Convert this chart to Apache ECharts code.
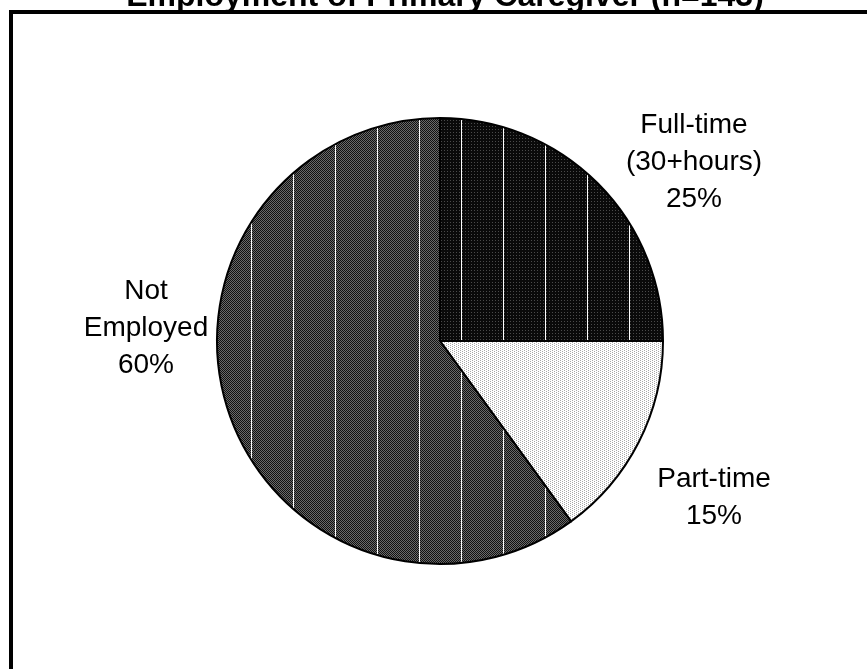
<!DOCTYPE html>
<html>
<head>
    <meta charset="utf-8" />
    <title>Employment of Primary Caregiver</title>
    <script src="https://cdn.jsdelivr.net/npm/echarts@6/dist/echarts.min.js"></script>
    <style>
        body { margin: 0; background: #fff; }
    </style>
</head>
<body>
<div id="main" style="width: 867px;height:669px;"></div>

<script type="text/javascript">
    // data
    var categories = ['Full-time (30+hours)', 'Part-time', 'Not Employed'];
    var shares = [25, 15, 60];

    // where each label sits, relative to the pie centre
    var labelOffsets = [[254, -179], [274, 157], [-294, -13]];

    var cx = 440, cy = 341, R = 223;

    // build a small tiled texture: base pixels + optional white vertical stripe
    function makeTile(w, h, paint) {
        var c = document.createElement('canvas');
        c.width = w;
        c.height = h;
        var ctx = c.getContext('2d');
        for (var y = 0; y < h; y++) {
            for (var x = 0; x < w; x++) {
                ctx.fillStyle = paint(x, y);
                ctx.fillRect(x, y, 1, 1);
            }
        }
        return { image: c, repeat: 'repeat' };
    }

    var fullTimeFill = makeTile(42, 3, function (x, y) {
        if (x === 41) return '#ffffff';
        return (x % 3 === 0 && y === 0) ? '#4a4a4a' : '#0a0a0a';
    });
    var notEmployedFill = makeTile(42, 2, function (x, y) {
        if (x === 41) return '#ffffff';
        return ((x + y) % 2 === 0) ? '#111111' : '#6a6a6a';
    });
    var partTimeFill = makeTile(4, 2, function (x, y) {
        return ((x === 0 && y === 0) || (x === 2 && y === 1)) ? '#a8a8a8' : '#ffffff';
    });
    var fills = [fullTimeFill, partTimeFill, notEmployedFill];

    var pieData = categories.map(function (name, i) {
        return { name: name, value: shares[i], itemStyle: { color: fills[i] } };
    });

    var myChart = echarts.init(document.getElementById('main'));

    var option = {
        animation: false,
        backgroundColor: '#ffffff',
        title: {
            text: 'Employment of Primary Caregiver (n=143)',
            left: cx,
            textAlign: 'center',
            top: -24,
            textStyle: {
                fontFamily: 'Liberation Sans, Arial, sans-serif',
                fontSize: 32,
                fontWeight: 'bold',
                color: '#000'
            }
        },
        graphic: [
            {
                type: 'rect',
                z: 100,
                shape: { x: 11, y: 12, width: 900, height: 700 },
                style: { fill: 'none', stroke: '#000', lineWidth: 4 },
                silent: true
            }
        ],
        series: [
            {
                type: 'pie',
                center: [cx, cy],
                radius: R,
                startAngle: 90,
                clockwise: true,
                avoidLabelOverlap: false,
                emphasis: { disabled: true },
                itemStyle: {
                    borderColor: '#000',
                    borderWidth: 2
                },
                label: {
                    show: true,
                    position: 'outside',
                    fontFamily: 'Liberation Sans, Arial, sans-serif',
                    fontSize: 28,
                    lineHeight: 37,
                    color: '#000',
                    formatter: function (p) {
                        return p.name.replace(' ', '\n') + '\n' + p.value + '%';
                    }
                },
                labelLine: { show: false },
                labelLayout: function (p) {
                    var o = labelOffsets[p.dataIndex];
                    return { x: cx + o[0], y: cy + o[1], align: 'center', verticalAlign: 'middle' };
                },
                data: pieData
            }
        ]
    };

    myChart.setOption(option);
</script>
</body>
</html>
